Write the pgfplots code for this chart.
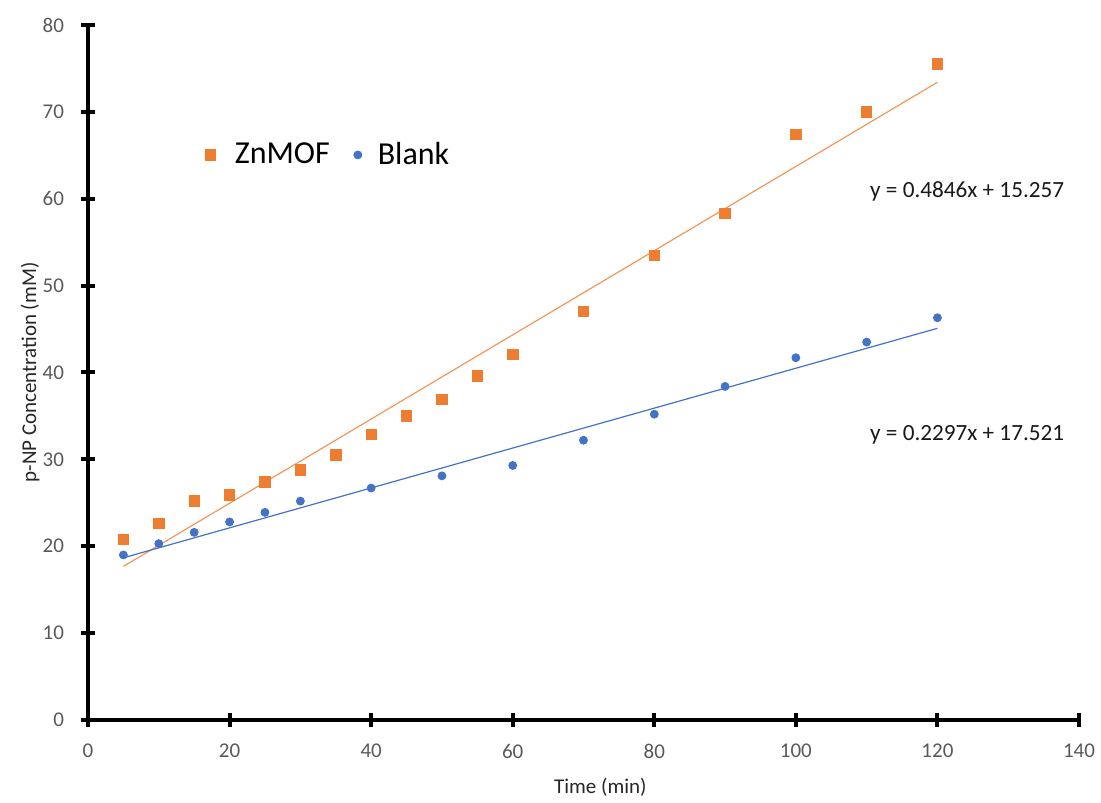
\documentclass[border=0pt]{standalone}
\usepackage{pgfplots}
\pgfplotsset{compat=1.18}
\usepackage{fontspec}
\setmainfont{Carlito}
\definecolor{exorange}{RGB}{237,125,49}
\definecolor{exblue}{RGB}{68,114,196}
\definecolor{tickgray}{RGB}{89,89,89}
\begin{document}
\begin{tikzpicture}
\path[use as bounding box] (-44pt,-41pt) rectangle (506.5pt,360pt);
\begin{axis}[
  at={(0,0)}, anchor=south west,
  scale only axis,
  width=495.5pt, height=347.5pt,
  xmin=0, xmax=140, ymin=0, ymax=80,
  xtick={0,20,...,140}, ytick={0,10,...,80},
  axis x line=bottom, axis y line=left,
  axis line style={line width=2pt, -},
  tick style={line width=2pt, black},
  tick align=center, major tick length=7pt,
  ticklabel style={font=\fontsize{10.5}{12}\selectfont, text=tickgray},
  /pgf/number format/assume math mode=true,
  xticklabel style={yshift=-5pt},
  yticklabel style={xshift=-5pt},
  xlabel={Time (min)}, ylabel={p-NP Concentration (mM)},
  label style={font=\fontsize{10.5}{12}\selectfont, text=black!85},
  xlabel style={at={(axis description cs:0.517,-0.0964)}, anchor=center},
  ylabel style={at={(axis description cs:-0.0585,0.5)}, anchor=center, rotate=0},
  legend style={at={(0.112,0.813)}, anchor=west, draw=none, fill=none,
    legend columns=2, font=\fontsize{16}{18}\selectfont,
    /tikz/every even column/.style={column sep=8pt},
    nodes={inner xsep=4pt}},
  legend cell align=left,
  clip=false,
]
\addplot[only marks, mark=square*, mark size=2.6pt, color=exorange] coordinates {
(5,20.8) (10,22.6) (15,25.2) (20,25.9) (25,27.4) (30,28.8) (35,30.5) (40,32.9)
(45,35.0) (50,36.9) (55,39.6) (60,42.1) (70,47.0) (80,53.5) (90,58.3) (100,67.4)
(110,70.0) (120,75.5)};
\addlegendentry{\hspace{5.5pt}ZnMOF}
\addplot[only marks, mark=*, mark size=2pt, color=exblue] coordinates {
(5,19.0) (10,20.3) (15,21.6) (20,22.8) (25,23.9) (30,25.2) (40,26.7) (50,28.1)
(60,29.3) (70,32.2) (80,35.2) (90,38.4) (100,41.7) (110,43.5) (120,46.3)};
\addlegendentry{\hspace{4pt}Blank}
\addplot[exorange!80, line width=0.6pt, forget plot] coordinates {(5,17.680) (120,73.409)};
\addplot[exblue, line width=0.6pt, forget plot] coordinates {(5,18.670) (120,45.085)};
\node[font=\fontsize{11.6}{14}\selectfont, text=black!90] at (axis cs:124.2,60.8) {y = 0.4846x + 15.257};
\node[font=\fontsize{11.6}{14}\selectfont, text=black!90] at (axis cs:124.2,32.8) {y = 0.2297x + 17.521};
\end{axis}
\end{tikzpicture}
\end{document}
